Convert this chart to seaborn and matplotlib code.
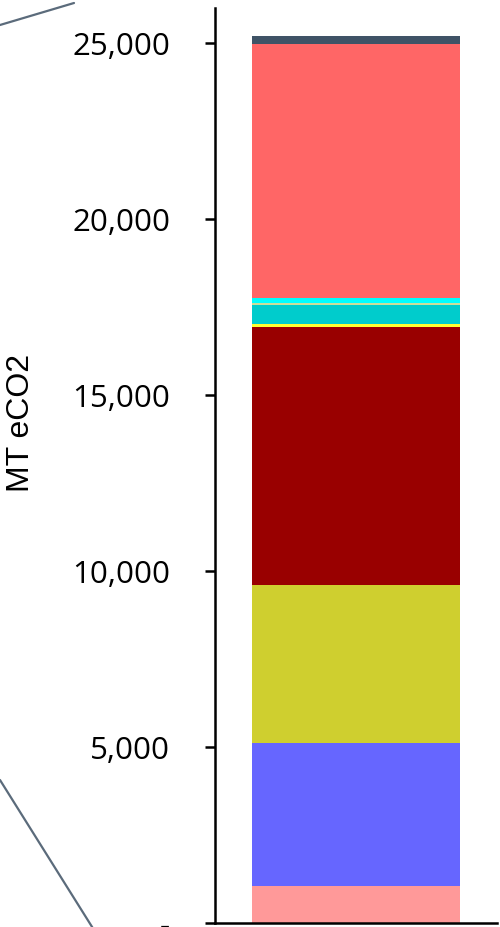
import numpy as np
import pandas as pd
import seaborn as sns
import matplotlib
matplotlib.use("Agg")
import matplotlib.pyplot as plt
from matplotlib.lines import Line2D
from matplotlib.ticker import FuncFormatter

# Emission sources, stacked from the bottom of the bar upwards
sources = ["Waste", "Agriculture", "Industry", "Electricity", "Solvents",
           "Residential", "Fugitive", "Commercial", "Transport", "Aviation"]
emissions = [1050, 4075, 4480, 7340, 85, 530, 57, 150, 7220, 225]
colors = ["#FF9999", "#6666FF", "#CFCF2F", "#990000", "#FFFF33",
          "#00CCCC", "#CCDD99", "#00FFFF", "#FF6666", "#3F5366"]
yticks = [0, 5000, 10000, 15000, 20000, 25000]

sns.set_theme(style="white")
plt.rcParams["font.family"] = ["Open Sans", "DejaVu Sans"]

fig = plt.figure(figsize=(5.0, 9.27), dpi=100)
ax = fig.add_axes([0.43, 0.0043, 0.564, 0.9871])

df = pd.DataFrame({"group": ["Total"] * len(sources),
                   "source": sources,
                   "value": emissions})
df["top"] = df["value"].cumsum()

# Draw cumulative totals from the top layer down so each segment shows its own slice
for i in range(len(df) - 1, -1, -1):
    sns.barplot(data=df.iloc[[i]], x="group", y="top", color=colors[i],
                saturation=1, width=0.738, ax=ax, linewidth=0)

ax.set_xlim(-0.5, 0.5)
ax.set_ylim(0, 26000)
ax.set_yticks(yticks)
ax.yaxis.set_major_formatter(FuncFormatter(lambda v, p: "-" if v == 0 else f"{v:,.0f}"))
ax.set_xticks([])
ax.set_xlabel("")
ax.set_ylabel("MT eCO2", family=["Liberation Sans", "DejaVu Sans"], fontsize=23,
              va="center")
ax.yaxis.set_label_coords(-0.688, 0.546)
ax.tick_params(axis="y", direction="out", length=7.2, width=1.8, color="black",
               labelsize=22.5, pad=25, left=True)
for side in ["top", "right"]:
    ax.spines[side].set_visible(False)
for side in ["left", "bottom"]:
    ax.spines[side].set_color("black")
    ax.spines[side].set_linewidth(1.8)
ax.yaxis.label.set_color("black")
for lbl in ax.get_yticklabels():
    lbl.set_color("black")

# Callout connector lines on the left edge
W, H = 500, 927
for (x0, y0), (x1, y1) in [((0, 25), (74, 3)), ((0, 780), (94, 930))]:
    fig.add_artist(Line2D([x0 / W, x1 / W], [1 - y0 / H, 1 - y1 / H],
                          color="#5B6B7B", linewidth=1.6, transform=fig.transFigure))

fig.savefig("out.png", dpi=100)
